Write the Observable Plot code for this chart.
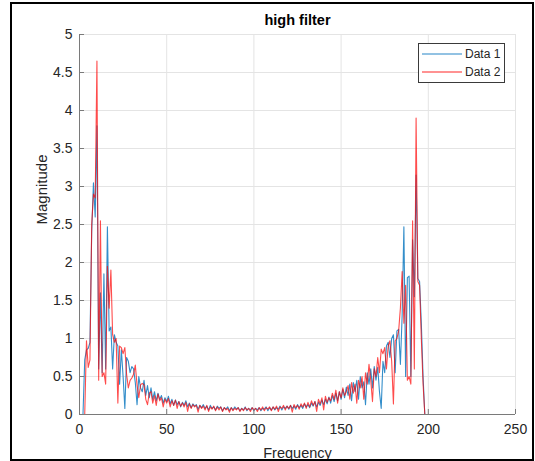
<!DOCTYPE html>
<html><head><meta charset="utf-8">
<script src="https://cdn.jsdelivr.net/npm/d3@7"></script>
<script src="https://cdn.jsdelivr.net/npm/@observablehq/plot@0.6"></script>
<style>
html,body{margin:0;padding:0;background:#fff;}
#wrap{position:relative;width:535px;height:461px;overflow:hidden;font-family:"Liberation Sans",Arial,sans-serif;}
#frame{position:absolute;left:10px;top:2px;width:520px;height:455px;border:2px solid #000;pointer-events:none;}
#legend{position:absolute;left:418px;top:43px;width:87px;height:40px;}
</style></head>
<body>
<div id="wrap"><div id="chart"></div>
<svg id="legend" width="87" height="40"></svg>
<div id="frame"></div></div>
<script>
const title = "high filter";
const xLabel = "Frequency";
const yLabel = "Magnitude";
const seriesNames = ["Data 1", "Data 2"];
const seriesColors = ["#0072BD", "#FF0000"];
const xTicks = [0, 50, 100, 150, 200, 250];
const yTicks = [0, 0.5, 1, 1.5, 2, 2.5, 3, 3.5, 4, 4.5, 5];
const yTickLabels = ["0", "0.5", "1", "1.5", "2", "2.5", "3", "3.5", "4", "4.5", "5"];

// magnitude per frequency bin (bin index = frequency)
const data1 = [
0, 0, 0, 0.72, 0.85, 0.87, 0.95, 2.4, 3.05, 2.6,
3.8, 0.6, 1.6, 0.55, 1.85, 0.6, 2.47, 1.1, 1.15, 0.6,
1.05, 0.95, 0.9, 0.4, 0.85, 0.5, 0.08, 0.75, 0.7, 0.55,
0.63, 0.6, 0.42, 0.13, 0.5, 0.35, 0.3, 0.45, 0.25, 0.38,
0.22, 0.35, 0.2, 0.3, 0.18, 0.28, 0.2, 0.25, 0.15, 0.22,
0.17, 0.24, 0.14, 0.2, 0.12, 0.19, 0.13, 0.17, 0.1, 0.16,
0.12, 0.18, 0.1, 0.15, 0.09, 0.14, 0.11, 0.13, 0.07, 0.12,
0.09, 0.13, 0.08, 0.11, 0.06, 0.12, 0.08, 0.1, 0.06, 0.11,
0.08, 0.1, 0.05, 0.09, 0.07, 0.1, 0.05, 0.09, 0.06, 0.1,
0.07, 0.09, 0.05, 0.08, 0.06, 0.1, 0.05, 0.08, 0.06, 0.09,
0.05, 0.08, 0.06, 0.09, 0.05, 0.08, 0.07, 0.1, 0.05, 0.09,
0.06, 0.1, 0.06, 0.09, 0.07, 0.11, 0.06, 0.1, 0.08, 0.11,
0.07, 0.12, 0.08, 0.11, 0.07, 0.13, 0.09, 0.12, 0.08, 0.14,
0.1, 0.13, 0.09, 0.15, 0.11, 0.17, 0.1, 0.16, 0.12, 0.19,
0.13, 0.2, 0.14, 0.23, 0.15, 0.25, 0.17, 0.28, 0.18, 0.3,
0.2, 0.33, 0.22, 0.36, 0.25, 0.4, 0.18, 0.42, 0.3, 0.45,
0.2, 0.5, 0.35, 0.43, 0.13, 0.55, 0.4, 0.6, 0.35, 0.63,
0.45, 0.62, 0.3, 0.08, 0.7, 0.55, 0.9, 0.95, 0.75, 1.0,
1.05, 0.55, 1.1, 1.12, 0.66, 1.3, 2.47, 0.5, 1.8, 1.82,
0.5, 2.3, 1.55, 3.15, 1.79, 1.75, 1.2, 0.5, 0, 0,
0];

const data2 = [
0, 0, 0, 0, 0.97, 0.62, 0.72, 2.5, 2.9, 2.85,
4.65, 0.45, 2.55, 0.5, 0.55, 0.4, 1.95, 1.4, 1.9, 1.05,
0.95, 1.0, 0.15, 0.9, 0.88, 0.8, 0.88, 0.53, 0.35, 0.45,
0.48, 0.53, 0.65, 0.39, 0.22, 0.39, 0.41, 0.39, 0.2, 0.13,
0.28, 0.3, 0.15, 0.25, 0.12, 0.27, 0.18, 0.22, 0.1, 0.2,
0.15, 0.21, 0.1, 0.18, 0.12, 0.19, 0.08, 0.17, 0.11, 0.15,
0.1, 0.16, 0.04, 0.14, 0.08, 0.13, 0.1, 0.12, 0.03, 0.12,
0.08, 0.11, 0.06, 0.12, 0.04, 0.1, 0.07, 0.11, 0.05, 0.1,
0.06, 0.1, 0.04, 0.09, 0.06, 0.08, 0.03, 0.09, 0.05, 0.08,
0.06, 0.09, 0.04, 0.08, 0.05, 0.09, 0.06, 0.08, 0.04, 0.09,
0.06, 0.08, 0.04, 0.09, 0.06, 0.1, 0.05, 0.09, 0.07, 0.1,
0.05, 0.1, 0.07, 0.11, 0.04, 0.1, 0.08, 0.12, 0.06, 0.11,
0.08, 0.12, 0.03, 0.13, 0.09, 0.12, 0.07, 0.14, 0.1, 0.15,
0.08, 0.16, 0.1, 0.18, 0.12, 0.17, 0.04, 0.2, 0.14, 0.22,
0.06, 0.24, 0.16, 0.22, 0.18, 0.28, 0.2, 0.32, 0.15, 0.3,
0.22, 0.35, 0.25, 0.3, 0.38, 0.2, 0.42, 0.28, 0.4, 0.15,
0.45, 0.35, 0.5, 0.2, 0.55, 0.4, 0.66, 0.45, 0.17, 0.6,
0.5, 0.75, 0.55, 0.86, 0.8, 0.88, 0.6, 0.9, 0.97, 0.7,
0.14, 0.97, 1.0, 1.1, 1.4, 1.88, 1.2, 1.7, 0.45, 0.5,
0.4, 2.55, 0.6, 3.9, 1.75, 1.7, 1.0, 0.4, 0, 0,
0];

const rows1 = data1.map((v, i) => ({f: i, v}));
const rows2 = data2.map((v, i) => ({f: i, v}));

const axisColor = "#7a7a7a";
const textColor = "#262626";
const font = "Liberation Sans, Arial, sans-serif";

const chart = Plot.plot({
  width: 535,
  height: 461,
  marginLeft: 79,
  marginRight: 20,
  marginTop: 34,
  marginBottom: 47,
  style: {fontFamily: font, fontSize: "14px", color: textColor, background: "transparent"},
  x: {domain: [0, 250]},
  y: {domain: [0, 5]},
  marks: [
    Plot.gridX(xTicks, {stroke: "#e4e4e4", strokeOpacity: 1}),
    Plot.gridY(yTicks, {stroke: "#e4e4e4", strokeOpacity: 1}),
    Plot.line(rows1, {x: "f", y: "v", stroke: seriesColors[0], strokeWidth: 1.1, strokeOpacity: 0.8}),
    Plot.line(rows2, {x: "f", y: "v", stroke: seriesColors[1], strokeWidth: 1.1, strokeOpacity: 0.7}),
    Plot.ruleY([0], {stroke: axisColor}),
    Plot.ruleX([0], {stroke: axisColor}),
    Plot.axisX(xTicks, {anchor: "bottom", tickSize: 5, dy: -5, tickFormat: () => "", label: null, stroke: axisColor}),
    Plot.axisY(yTicks, {anchor: "left", tickSize: 5, dx: 5, tickFormat: () => "", label: null, stroke: axisColor}),
    Plot.axisX(xTicks, {anchor: "bottom", tickSize: 0, tickPadding: 10, fontSize: 14, label: null, fill: textColor}),
    Plot.axisY(yTicks, {anchor: "left", tickSize: 0, tickPadding: 7, fontSize: 14, label: null, fill: textColor,
      tickFormat: (d) => yTickLabels[yTicks.indexOf(d)]}),
    Plot.text([title], {frameAnchor: "top", lineAnchor: "middle", dy: -14, fontWeight: "bold", fontSize: 14.5, fill: "#000"}),
    Plot.text([xLabel], {frameAnchor: "bottom", lineAnchor: "middle", dy: 39, fontSize: 14.5, fill: textColor}),
    Plot.text([yLabel], {frameAnchor: "left", dx: -37, rotate: -90, fontSize: 15, fill: textColor})
  ]
});
document.getElementById("chart").appendChild(chart);

const legend = d3.select("#legend");
legend.append("rect").attr("x", 0.5).attr("y", 0.5).attr("width", 86).attr("height", 39)
  .attr("fill", "#fff").attr("stroke", "#3a3a3a").attr("stroke-width", 1);
seriesNames.forEach((name, i) => {
  const y = 11 + i * 18;
  legend.append("line").attr("x1", 4).attr("x2", 44).attr("y1", y).attr("y2", y)
    .attr("stroke", seriesColors[i]).attr("stroke-width", 1.2).attr("stroke-opacity", 0.85);
  legend.append("text").attr("x", 47).attr("y", y).attr("dy", "0.35em")
    .attr("font-family", font).attr("font-size", 12).attr("fill", textColor).text(name);
});
</script>
</body></html>
